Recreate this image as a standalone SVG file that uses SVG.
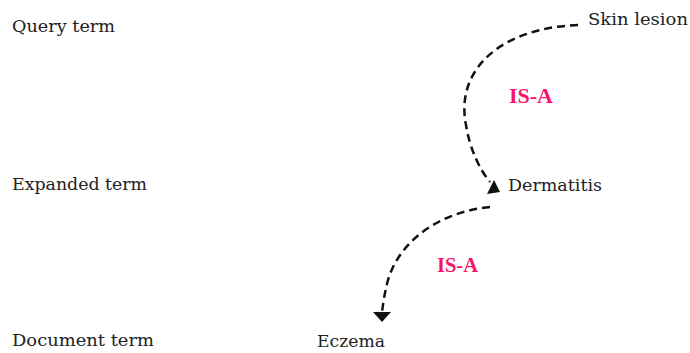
<svg xmlns="http://www.w3.org/2000/svg" width="690" height="353" viewBox="0 0 690 353">
<style>
.t{font-family:"DejaVu Serif","Liberation Serif",serif;font-size:17px;fill:#222}
.r{font-family:"Liberation Serif","Times New Roman",serif;font-size:20px;font-weight:bold;fill:#f5146a}
.c{fill:none;stroke:#111;stroke-width:2.5;stroke-dasharray:8 5}
.h{fill:#111}
</style>
<rect width="690" height="353" fill="#fff"/>
<g id="labels">
<text class="t" x="12" y="32" textLength="103" lengthAdjust="spacingAndGlyphs">Query term</text>
<text class="t" x="12" y="190" textLength="135" lengthAdjust="spacingAndGlyphs">Expanded term</text>
<text class="t" x="12" y="346" textLength="142" lengthAdjust="spacingAndGlyphs">Document term</text>
</g>
<g id="skin-lesion"><text class="t" x="588" y="25" textLength="100" lengthAdjust="spacingAndGlyphs">Skin lesion</text></g>
<g id="dermatitis"><text class="t" x="508" y="191" textLength="94" lengthAdjust="spacingAndGlyphs">Dermatitis</text></g>
<g id="eczema"><text class="t" x="317" y="347" textLength="68" lengthAdjust="spacingAndGlyphs">Eczema</text></g>
<g id="connectors">
<path class="c" d="M578,25 C500,28 455,70 466,125 C470,150 480,170 490,182"/>
<polygon class="h" points="500,192 494,180 487,194"/>
<text class="r" x="509" y="103" textLength="44" lengthAdjust="spacingAndGlyphs">IS-A</text>
<path class="c" d="M490,207 C440,212 400,240 388,280 C384,295 383,305 382,312"/>
<polygon class="h" points="382,322 373,312 391,312"/>
<text class="r" x="437" y="272" textLength="41" lengthAdjust="spacingAndGlyphs">IS-A</text>
</g>
</svg>
